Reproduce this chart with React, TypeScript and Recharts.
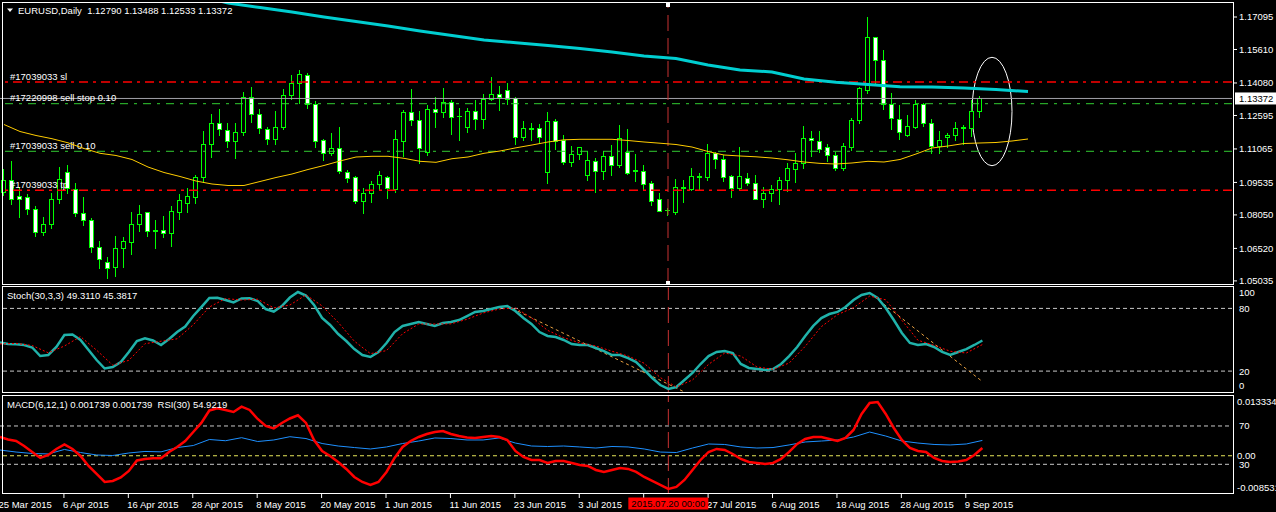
import React from 'react';
import {
  ComposedChart,
  Bar,
  Line,
  XAxis,
  YAxis,
  ReferenceLine,
  ReferenceArea,
  ReferenceDot,
} from 'recharts';

const W = 1276;
const H = 512;
const FONT = "'Liberation Sans', Arial, sans-serif";
const FS = 9.5;

// ---------- data ----------
// [open, high, low, close] per daily bar, starting 25 Mar 2015
const ohlc: [number, number, number, number][] = [
  [1.09114, 1.1015, 1.08962, 1.09647],
  [1.09647, 1.10516, 1.08536, 1.08764],
  [1.08916, 1.09343, 1.07972, 1.08764],
  [1.08855, 1.08993, 1.08079, 1.08307],
  [1.08307, 1.08459, 1.07089, 1.07287],
  [1.07287, 1.07972, 1.07134, 1.07637],
  [1.07622, 1.09069, 1.0747, 1.08764],
  [1.08764, 1.10257, 1.08612, 1.09678],
  [1.10028, 1.10333, 1.09069, 1.09267],
  [1.09221, 1.09526, 1.08003, 1.08124],
  [1.08124, 1.08855, 1.07591, 1.07805],
  [1.07805, 1.07896, 1.06373, 1.06571],
  [1.06571, 1.0686, 1.05642, 1.06023],
  [1.05886, 1.06144, 1.05185, 1.05642],
  [1.05657, 1.07089, 1.05276, 1.06525],
  [1.06525, 1.07058, 1.05688, 1.0686],
  [1.0683, 1.0817, 1.06251, 1.07622],
  [1.07622, 1.08505, 1.07332, 1.08094],
  [1.0817, 1.08201, 1.07104, 1.07332],
  [1.07332, 1.0782, 1.06556, 1.07363],
  [1.07363, 1.08003, 1.07058, 1.07241],
  [1.07241, 1.08459, 1.06647, 1.08216],
  [1.08201, 1.09008, 1.0785, 1.08718],
  [1.08612, 1.09267, 1.0817, 1.08916],
  [1.08886, 1.09891, 1.08581, 1.09784],
  [1.098, 1.11901, 1.09571, 1.11277],
  [1.11277, 1.12663, 1.10683, 1.12236],
  [1.12236, 1.12891, 1.11703, 1.11962],
  [1.11932, 1.12236, 1.1117, 1.11445],
  [1.11445, 1.12236, 1.10637, 1.11825],
  [1.11825, 1.13683, 1.11703, 1.13424],
  [1.13424, 1.13897, 1.12313, 1.12648],
  [1.12648, 1.12891, 1.1178, 1.12008],
  [1.11962, 1.12054, 1.11277, 1.11505],
  [1.11505, 1.128, 1.11307, 1.12084],
  [1.12084, 1.1379, 1.11978, 1.13516],
  [1.13516, 1.14445, 1.13348, 1.14064],
  [1.14064, 1.14673, 1.1315, 1.14475],
  [1.1443, 1.14521, 1.12952, 1.13105],
  [1.13105, 1.13257, 1.1117, 1.11445],
  [1.11475, 1.11536, 1.10561, 1.10896],
  [1.10896, 1.11795, 1.1079, 1.11094],
  [1.11094, 1.12069, 1.09982, 1.10074],
  [1.09998, 1.10104, 1.09571, 1.09754],
  [1.09769, 1.0983, 1.08581, 1.08703],
  [1.08703, 1.09267, 1.08155, 1.09038],
  [1.09038, 1.09602, 1.08642, 1.09465],
  [1.09449, 1.10059, 1.0919, 1.09876],
  [1.09769, 1.09845, 1.0884, 1.09267],
  [1.09251, 1.11932, 1.09114, 1.11521],
  [1.11445, 1.12846, 1.10759, 1.12754],
  [1.12754, 1.13805, 1.1216, 1.12374],
  [1.12374, 1.128, 1.10439, 1.11125],
  [1.10942, 1.13074, 1.1079, 1.12891],
  [1.12891, 1.1344, 1.12069, 1.1277],
  [1.1277, 1.13851, 1.12541, 1.13211],
  [1.13211, 1.13303, 1.11749, 1.12541],
  [1.12587, 1.12937, 1.11475, 1.12556],
  [1.12084, 1.12922, 1.11841, 1.128],
  [1.128, 1.13303, 1.11978, 1.1245],
  [1.1245, 1.13577, 1.12039, 1.13333],
  [1.13333, 1.14353, 1.13303, 1.13562],
  [1.13562, 1.13942, 1.12846, 1.13455],
  [1.13744, 1.14095, 1.13105, 1.13348],
  [1.13379, 1.13424, 1.11292, 1.11627],
  [1.11627, 1.12343, 1.11475, 1.12008],
  [1.11993, 1.12252, 1.11475, 1.12023],
  [1.12008, 1.12191, 1.11353, 1.11627],
  [1.10028, 1.12754, 1.09526, 1.12343],
  [1.12343, 1.12434, 1.11064, 1.11445],
  [1.11475, 1.11703, 1.10378, 1.10485],
  [1.10485, 1.11201, 1.10287, 1.1082],
  [1.1082, 1.11155, 1.10607, 1.1114],
  [1.09891, 1.10957, 1.09647, 1.10561],
  [1.10531, 1.10637, 1.09114, 1.10074],
  [1.10074, 1.10957, 1.09693, 1.10729],
  [1.10729, 1.11247, 1.09876, 1.10348],
  [1.10348, 1.1216, 1.10257, 1.11551],
  [1.10911, 1.11978, 1.09922, 1.09982],
  [1.10089, 1.10835, 1.09617, 1.10059],
  [1.10044, 1.10333, 1.09236, 1.09465],
  [1.09495, 1.09602, 1.0852, 1.08703],
  [1.08764, 1.09038, 1.08216, 1.08246],
  [1.08292, 1.08353, 1.08048, 1.08262],
  [1.08201, 1.09678, 1.08094, 1.09312],
  [1.09282, 1.09647, 1.08642, 1.09312],
  [1.09236, 1.10196, 1.0919, 1.0983],
  [1.098, 1.09952, 1.0919, 1.0983],
  [1.098, 1.11292, 1.09647, 1.10866],
  [1.10866, 1.10942, 1.1018, 1.10592],
  [1.10592, 1.1079, 1.09617, 1.098],
  [1.0983, 1.09876, 1.08886, 1.09297],
  [1.09298, 1.11156, 1.09191, 1.09831],
  [1.09724, 1.09983, 1.09419, 1.09495],
  [1.09495, 1.09876, 1.08764, 1.08795],
  [1.08795, 1.09343, 1.08429, 1.09039],
  [1.09039, 1.09419, 1.08704, 1.09221],
  [1.09221, 1.0977, 1.08536, 1.09633],
  [1.09633, 1.10409, 1.0916, 1.10181],
  [1.10166, 1.10866, 1.09572, 1.10409],
  [1.10409, 1.12115, 1.10211, 1.11552],
  [1.11552, 1.11887, 1.1076, 1.1146],
  [1.11445, 1.11887, 1.10942, 1.11049],
  [1.11171, 1.11277, 1.10516, 1.10775],
  [1.10775, 1.10942, 1.10105, 1.10181],
  [1.10181, 1.11323, 1.10105, 1.11201],
  [1.11171, 1.12465, 1.11018, 1.12389],
  [1.12374, 1.13912, 1.12267, 1.13836],
  [1.1376, 1.1708, 1.13638, 1.16166],
  [1.16166, 1.16197, 1.13988, 1.15115],
  [1.15115, 1.15588, 1.12877, 1.13105],
  [1.13105, 1.13608, 1.11993, 1.12465],
  [1.1242, 1.13075, 1.11536, 1.11826],
  [1.11719, 1.12602, 1.11658, 1.12115],
  [1.12085, 1.13303, 1.12024, 1.13105],
  [1.13105, 1.13151, 1.1213, 1.12237],
  [1.12237, 1.1242, 1.10866, 1.11217],
  [1.11217, 1.11887, 1.10866, 1.1146],
  [1.11597, 1.1178, 1.11171, 1.11704],
  [1.11689, 1.12298, 1.11475, 1.12008],
  [1.12024, 1.12146, 1.11277, 1.12054],
  [1.12039, 1.13303, 1.11674, 1.12785],
  [1.1279, 1.13488, 1.12533, 1.13372],
];

// cyan (slow) moving average, shifted forward: [bar index, value]
const slowMa: [number, number][] = [
  [26, 1.17915], [28, 1.17735], [32, 1.17529], [36, 1.17324], [40, 1.17095],
  [44, 1.16889], [48, 1.16684], [52, 1.16455], [56, 1.1625], [60, 1.16044],
  [64, 1.15921], [68, 1.15793], [72, 1.15656], [76, 1.15496], [80, 1.15313],
  [84, 1.15199], [88, 1.14902], [92, 1.14673], [96, 1.14582], [100, 1.14262],
  [104, 1.14111], [108, 1.1401], [112, 1.1391], [116, 1.13893], [120, 1.1385],
  [124, 1.13781], [128, 1.1369],
];

// yellow (fast) moving average, shifted forward: [bar index, value]
const fastMa: [number, number][] = [
  [0, 1.12182], [2, 1.11862], [4, 1.1168], [6, 1.11533], [8, 1.11346], [10, 1.11086],
  [12, 1.10866], [14, 1.10766], [16, 1.10583], [18, 1.1024], [20, 1.09989], [22, 1.09806],
  [24, 1.096], [26, 1.09463], [28, 1.09395], [30, 1.09395], [32, 1.09577], [34, 1.0976],
  [36, 1.0992], [38, 1.10126], [40, 1.10309], [42, 1.10514], [44, 1.10697], [46, 1.10729],
  [48, 1.10729], [50, 1.10637], [52, 1.105], [54, 1.10454], [56, 1.10619], [58, 1.10697],
  [60, 1.10866], [62, 1.10971], [64, 1.11117], [66, 1.11245], [68, 1.11383], [70, 1.11483],
  [72, 1.11506], [74, 1.11506], [76, 1.11506], [78, 1.11451], [80, 1.11383], [82, 1.11327],
  [84, 1.11268], [86, 1.11153], [88, 1.10948], [90, 1.10788], [92, 1.10743], [94, 1.10706],
  [96, 1.10651], [98, 1.10569], [100, 1.10469], [102, 1.10405], [104, 1.10377], [106, 1.10423],
  [108, 1.105], [110, 1.10468], [112, 1.10583], [114, 1.10834], [116, 1.11108], [118, 1.112],
  [120, 1.11314], [122, 1.11337], [124, 1.1136], [126, 1.11428], [128, 1.1152],
];

// Stochastic main line, one value per bar
const stochMain: number[] = [
  47.4, 45.9, 45.6, 45, 42.6, 34.4, 35.4, 43.1, 54.5, 55,
  49.8, 40.2, 30.6, 22.5, 23.9, 28.7, 38.3, 48.8, 51.4, 49.3,
  45, 50.7, 57.4, 62.7, 72.7, 81.3, 90, 90.2, 88, 85.8,
  89.5, 89.7, 87.1, 79.4, 77, 82.3, 90.4, 95.7, 92.3, 83.3,
  70.8, 64.1, 55.5, 48.8, 41.1, 35.4, 33.5, 38.3, 46.9, 57.4,
  63.2, 65.1, 67, 65.1, 63.2, 66, 67, 68.9, 72.7, 76.6,
  77.5, 79.4, 81.3, 82.3, 77.5, 70.8, 65.1, 57.4, 53.6, 52.6,
  49.8, 45.9, 45, 45, 42.1, 39.2, 35.4, 35.4, 32.5, 28.7,
  21.1, 13.4, 6.7, 2.9, 4.8, 11.5, 18.2, 26.8, 34.4, 38.3,
  39.2, 37.3, 26.8, 23, 22, 21.1, 22, 26.8, 34.4, 43.1,
  53.6, 63.2, 70.8, 74.6, 76.6, 81.3, 88, 92.8, 94.7, 90,
  80.4, 68.9, 56.5, 46.9, 45, 45.9, 43.1, 38.3, 35.4, 38.3,
  41.1, 45, 49.311,
];

// Stochastic signal line: [bar index, value]
const stochSignal: [number, number][] = [
  [0, 46], [2, 46.5], [4, 44.5], [6, 37.5], [8, 44], [10, 53], [12, 40], [14, 25.7],
  [16, 30.3], [18, 46.2], [20, 48.6], [22, 50.9], [24, 64.3], [26, 81.3], [28, 89.4],
  [30, 88], [32, 88.8], [34, 80.5], [36, 83.2], [38, 92.9], [40, 82.4], [42, 66.6],
  [44, 48.7], [46, 36.7], [48, 39.6], [50, 55.8], [52, 65.1], [54, 65.1], [56, 65.2],
  [58, 69.6], [60, 75.6], [62, 79.4], [64, 80.4], [66, 71.1], [68, 59], [70, 52],
  [72, 47], [74, 44], [76, 39], [78, 34.4], [80, 27.5], [82, 13.8], [84, 4.8], [86, 11.5],
  [88, 26.5], [90, 37.3], [92, 34.4], [94, 24], [96, 21.7], [98, 27.7], [100, 43.7],
  [102, 62.5], [104, 74], [106, 80.7], [108, 91.8], [110, 88.2], [112, 68.6], [114, 49.5],
  [116, 44.7], [118, 39], [120, 37.3], [122, 45.3817],
];

// MACD main line, one value per bar
const macdValues: number[] = [
  0.00419, 0.00364, 0.0033, 0.00219, 0.00085, -0.00049, 0.00018, 0.00152, 0.00252, 0.00152,
  -0.00004, -0.00228, -0.00406, -0.00585, -0.00562, -0.00484, -0.00339, -0.00105, -0.00071, -0.00056,
  -0.00056, 0.00085, 0.00196, 0.0033, 0.00531, 0.00732, 0.01011, 0.0106, 0.01022, 0.00977,
  0.01095, 0.01022, 0.00821, 0.00665, 0.00609, 0.00732, 0.00832, 0.00904, 0.00732, 0.00352,
  0.00107, -0.00004, -0.00138, -0.00294, -0.00473, -0.00585, -0.00651, -0.00585, -0.00361, -0.00049,
  0.00196, 0.0033, 0.00419, 0.00486, 0.00531, 0.00553, 0.00486, 0.00442, 0.00408, 0.00397,
  0.00419, 0.00442, 0.00419, 0.00352, 0.00107, -0.00027, -0.00094, -0.00094, -0.00161, -0.00116,
  -0.00116, -0.00161, -0.00205, -0.00228, -0.00317, -0.00361, -0.00317, -0.00272, -0.00294, -0.00361,
  -0.00473, -0.00562, -0.00651, -0.00741, -0.00696, -0.0054, -0.00317, -0.00094, 0.00085, 0.00152,
  0.00129, 0.0004, -0.00071, -0.00138, -0.00161, -0.00183, -0.00161, -0.00071, 0.00085, 0.00263,
  0.00375, 0.00419, 0.00419, 0.00375, 0.0033, 0.00397, 0.00576, 0.00933, 0.01178, 0.012,
  0.00933, 0.0062, 0.00352, 0.00174, 0.00107, 0.00085, -0.00049, -0.00116, -0.00138, -0.00127,
  -0.00094, 0.00018, 0.001739,
];

// RSI(30): [bar index, value]
const rsiValues: [number, number][] = [
  [0, 44.9], [2, 42.8], [4, 41.3], [6, 40.8], [8, 45.5], [10, 42.3], [12, 39.7], [14, 39.2],
  [16, 41.8], [18, 43.4], [20, 43], [22, 47.5], [24, 49.6], [26, 55.9], [28, 54.6], [30, 57.8],
  [32, 53.8], [34, 55.4], [36, 58.8], [38, 56.9], [40, 51.7], [42, 49.1], [44, 47.5], [46, 46],
  [48, 48.1], [50, 51.7], [52, 54.3], [54, 57.5], [56, 56.9], [58, 55.4], [60, 55.4], [62, 57.5],
  [64, 52.2], [66, 49.1], [68, 48.6], [70, 49.1], [72, 48.1], [74, 47], [76, 48.6], [78, 48.1],
  [80, 46], [82, 42.8], [84, 42.3], [86, 47], [88, 51.2], [90, 50.7], [92, 48.1], [94, 47],
  [96, 47.5], [98, 50.2], [100, 53.3], [102, 54.3], [104, 55.4], [106, 58.5], [108, 63.7],
  [110, 59.5], [112, 54.3], [114, 52.2], [116, 50.7], [118, 50.2], [120, 51.2], [122, 54.9219],
];

// bottom axis labels: [bar index, text]
const dateTicks: [number, string][] = [
  [0, '25 Mar 2015'], [8, '6 Apr 2015'], [16, '16 Apr 2015'], [24, '28 Apr 2015'],
  [32, '8 May 2015'], [40, '20 May 2015'], [48, '1 Jun 2015'], [56, '11 Jun 2015'],
  [64, '23 Jun 2015'], [72, '3 Jul 2015'], [80, '15 Jul 2015'], [88, '27 Jul 2015'],
  [96, '6 Aug 2015'], [104, '18 Aug 2015'], [112, '28 Aug 2015'], [120, '9 Sep 2015'],
];
const cursorIndex = 83;
const cursorLabel = '2015.07.20 00:00';

const priceTicks = [1.17095, 1.1561, 1.1408, 1.12595, 1.11065, 1.09535, 1.0805, 1.0652, 1.05035];
const stochTicks = [0, 20, 80, 100];
const stochLevels = [80, 20];
const rsiLevels = [70, 30];

const orderSl = 1.14125;
const orderSellStop = 1.13133;
const orderSell = 1.10958;
const orderTp = 1.09175;
const bidPrice = 1.13372;

const stochTrends: [[number, number], [number, number]][] = [
  [[63, 82.3], [85, 0]],
  [[108, 94.7], [122, 10]],
];

// ellipse object around the last bars: index range and price range
const ellipseBars: [number, number] = [121, 126];
const ellipsePrices: [number, number] = [1.103, 1.15253];

const PRICE_MIN = 1.04893;
const PRICE_MAX = 1.17735;
const MACD_MIN = -0.008531;
const MACD_MAX = 0.013334;
const SLOTS = 154;

// ---------- table ----------
const slowMap = new Map(slowMa);
const fastMap = new Map(fastMa);
const sigMap = new Map(stochSignal);
const rsiMap = new Map(rsiValues);
const dateMap = new Map(dateTicks);

const rows = Array.from({ length: SLOTS }, (_, i) => {
  const k = ohlc[i];
  return {
    i,
    o: k ? k[0] : null,
    h: k ? k[1] : null,
    l: k ? k[2] : null,
    c: k ? k[3] : null,
    slow: slowMap.has(i) ? slowMap.get(i) : null,
    fast: fastMap.has(i) ? fastMap.get(i) : null,
    st: i < stochMain.length ? stochMain[i] : null,
    sig: sigMap.has(i) ? sigMap.get(i) : null,
    macd: i < macdValues.length ? macdValues[i] : null,
    rsi: rsiMap.has(i) ? rsiMap.get(i) : null,
  };
});

const xTicks = [...dateTicks.map((d) => d[0]), cursorIndex];

// ---------- shapes ----------
const GREEN = '#00ff00';

const Candle = (props: any) => {
  const { x, y, width, height, payload } = props;
  if (!payload || payload.o == null || !isFinite(y) || !isFinite(height)) return <g />;
  const { o, h, l, c } = payload;
  const top = Math.min(y, y + height);
  const bot = Math.max(y, y + height);
  const span = h - l || 1e-9;
  const py = (v: number) => top + ((h - v) / span) * (bot - top);
  const cx = Math.floor(x + width / 2 - 0.5);
  const bull = c >= o;
  const bTop = Math.round(Math.min(py(o), py(c)));
  const bBot = Math.round(Math.max(py(o), py(c)));
  return (
    <g shapeRendering="crispEdges">
      <line x1={cx + 0.5} x2={cx + 0.5} y1={Math.round(top)} y2={Math.round(bot) + 1} stroke={GREEN} strokeWidth={1} />
      {bBot - bTop < 1 ? (
        <line x1={cx - 2} x2={cx + 3} y1={bTop + 0.5} y2={bTop + 0.5} stroke={GREEN} strokeWidth={1} />
      ) : (
        <rect x={cx - 1.5} y={bTop + 0.5} width={4} height={bBot - bTop} fill={bull ? '#000' : '#fff'} stroke={GREEN} strokeWidth={1} />
      )}
    </g>
  );
};

const PriceTick = (props: any) => {
  const { y, payload } = props;
  return (
    <g>
      <line x1={1234} x2={1237} y1={y} y2={y} stroke="#fff" />
      <text x={1239} y={y + 3.4} fill="#fff" fontSize={FS} fontFamily={FONT}>
        {Number(payload.value).toFixed(5)}
      </text>
    </g>
  );
};

const SideTick = (props: any) => {
  const { y, payload, lo, hi, fmt, tx } = props;
  const yy = Math.min(hi, Math.max(lo, y));
  return (
    <text x={tx || 1239} y={yy + 3.4} fill="#fff" fontSize={FS} fontFamily={FONT}>
      {fmt(payload.value)}
    </text>
  );
};

const DateTick = (props: any) => {
  const { x, payload } = props;
  const v = payload.value;
  if (v === cursorIndex) {
    return (
      <g>
        <rect x={x - 40} y={497.5} width={80} height={12} fill="#ff0000" />
        <text x={x} y={507} textAnchor="middle" fill="#000" fontSize={FS} fontFamily={FONT}>
          {cursorLabel}
        </text>
      </g>
    );
  }
  // the label just before the cursor box is covered by it
  const hidden = v < cursorIndex && (cursorIndex - v) * 8 < 45;
  return (
    <g>
      <line x1={x - 0.5} x2={x - 0.5} y1={494} y2={498} stroke="#fff" />
      {!hidden && (
        <text x={x - 1.5} y={507.5} fill="#fff" fontSize={FS} fontFamily={FONT}>
          {dateMap.get(v)}
        </text>
      )}
    </g>
  );
};

const OrderLabel = (props: any) => {
  const vb = props.viewBox || {};
  return (
    <text x={10} y={(vb.y || 0) - 2.3} fill="#fff" fontSize={FS} fontFamily={FONT}>
      {props.labelText}
    </text>
  );
};

const BidLabel = (props: any) => {
  const vb = props.viewBox || {};
  const y = vb.y || 0;
  return (
    <g>
      <rect x={1235} y={y - 6} width={41} height={12} fill="#fff" />
      <text x={1239} y={y + 3.4} fill="#000" fontSize={FS} fontFamily={FONT}>
        {bidPrice.toFixed(5)}
      </text>
    </g>
  );
};

const LevelLabel = (props: any) => {
  const vb = props.viewBox || {};
  return (
    <text x={1239} y={(vb.y || 0) + 3.4} fill="#fff" fontSize={FS} fontFamily={FONT}>
      {props.labelText}
    </text>
  );
};

const ellipseShape = (p: any) => (
  <ellipse
    cx={p.x + p.width / 2}
    cy={p.y + p.height / 2}
    rx={Math.max(p.width / 2 - 4, 1)}
    ry={p.height / 2}
    fill="none"
    stroke="#fff"
    strokeWidth={1}
  />
);

const anchorShape = (p: any) => <rect x={p.cx - 2} y={p.cy - 2} width={4} height={4} fill="#fff" />;

const VLINE = { stroke: '#c83232', strokeDasharray: '16 7', strokeWidth: 1 };

// ---------- charts ----------
const MainChart = () => (
  <ComposedChart width={W} height={H} data={rows} margin={{ top: 3, right: 0, bottom: H - 284, left: 0 }}>
    <XAxis dataKey="i" hide />
    <YAxis
      orientation="right"
      width={44}
      domain={[PRICE_MIN, PRICE_MAX]}
      allowDataOverflow
      ticks={priceTicks}
      interval={0}
      axisLine={false}
      tickLine={false}
      tick={<PriceTick />}
    />
    <ReferenceLine y={orderSl} stroke="#ff0000" strokeWidth={1.5} strokeDasharray="9 5 3 5" label={<OrderLabel labelText="#17039033 sl" />} />
    <ReferenceLine y={bidPrice} stroke="#a0a0a8" strokeWidth={1} label={<BidLabel />} />
    <ReferenceLine y={orderSellStop} stroke="#32cd32" strokeWidth={1} strokeDasharray="8 6 3 6" label={<OrderLabel labelText="#17220998 sell stop 0.10" />} />
    <ReferenceLine y={orderSell} stroke="#32cd32" strokeWidth={1} strokeDasharray="8 6 3 6" label={<OrderLabel labelText="#17039033 sell 0.10" />} />
    <ReferenceLine y={orderTp} stroke="#ff0000" strokeWidth={1.5} strokeDasharray="9 5 3 5" label={<OrderLabel labelText="#17039033 tp" />} />
    <ReferenceLine x={cursorIndex} {...VLINE} />
    <Bar dataKey={(d: any) => (d.o == null ? null : [d.l, d.h])} shape={Candle} isAnimationActive={false} />
    <Line dataKey="fast" stroke="#ffcc00" strokeWidth={1} dot={false} connectNulls isAnimationActive={false} />
    <Line dataKey="slow" stroke="#00ced1" strokeWidth={3} dot={false} connectNulls isAnimationActive={false} />
    <ReferenceArea
      x1={ellipseBars[0]}
      x2={ellipseBars[1]}
      y1={ellipsePrices[0]}
      y2={ellipsePrices[1]}
      shape={ellipseShape}
    />
    <ReferenceDot x={cursorIndex} y={1.17643} r={2} shape={anchorShape} />
    <ReferenceDot x={cursorIndex} y={1.04939} r={2} shape={anchorShape} />
  </ComposedChart>
);

const StochChart = () => (
  <ComposedChart width={W} height={H} data={rows} margin={{ top: 287.5, right: 0, bottom: 120, left: 0 }}>
    <XAxis dataKey="i" hide />
    <YAxis
      orientation="right"
      width={44}
      domain={[0, 100]}
      allowDataOverflow
      ticks={stochTicks}
      interval={0}
      axisLine={false}
      tickLine={false}
      tick={<SideTick lo={292.3} hi={385.7} fmt={(v: number) => String(v)} />}
    />
    {stochLevels.map((lv) => (
      <ReferenceLine key={lv} y={lv} stroke="#c8c8c8" strokeDasharray="4 3" strokeWidth={1} />
    ))}
    <ReferenceLine x={cursorIndex} {...VLINE} />
    {stochTrends.map((t, k) => (
      <ReferenceLine
        key={k}
        segment={[{ x: t[0][0], y: t[0][1] }, { x: t[1][0], y: t[1][1] }]}
        stroke="#e8a040"
        strokeDasharray="3 3"
        strokeWidth={1}
      />
    ))}
    <Line dataKey="st" stroke="#20b2aa" strokeWidth={2.5} dot={false} connectNulls isAnimationActive={false} />
    <Line dataKey="sig" stroke="#ff0000" strokeWidth={1} strokeDasharray="2 2" dot={false} connectNulls isAnimationActive={false} />
  </ComposedChart>
);

const MacdChart = () => (
  <ComposedChart width={W} height={H} data={rows} margin={{ top: 396, right: 0, bottom: 0, left: 0 }}>
    <XAxis
      dataKey="i"
      height={18}
      ticks={xTicks}
      interval={0}
      axisLine={false}
      tickLine={false}
      tick={<DateTick />}
    />
    <YAxis
      orientation="right"
      width={44}
      domain={[MACD_MIN, MACD_MAX]}
      allowDataOverflow
      ticks={[MACD_MIN, 0, MACD_MAX]}
      interval={0}
      axisLine={false}
      tickLine={false}
      tick={<SideTick lo={401.7} hi={487.7} tx={1237} fmt={(v: number) => (v === 0 ? '0.00' : v.toFixed(6))} />}
    />
    <YAxis yAxisId="rsi" hide domain={[-1, 101.3]} allowDataOverflow />
    {rsiLevels.map((lv) => (
      <ReferenceLine
        key={lv}
        yAxisId="rsi"
        y={lv}
        stroke="#c8c8c8"
        strokeDasharray="4 3"
        strokeWidth={1}
        label={<LevelLabel labelText={String(lv)} />}
      />
    ))}
    <ReferenceLine y={0} stroke="#e6e65a" strokeDasharray="4 3" strokeWidth={1} />
    <ReferenceLine x={cursorIndex} {...VLINE} />
    <Line yAxisId="rsi" dataKey="rsi" stroke="#1e90ff" strokeWidth={1} dot={false} connectNulls isAnimationActive={false} />
    <Line dataKey="macd" stroke="#ff0000" strokeWidth={2.5} dot={false} connectNulls isAnimationActive={false} />
  </ComposedChart>
);

export default function App() {
  const layer: React.CSSProperties = { position: 'absolute', left: 0, top: 0 };
  return (
    <div
      style={{
        position: 'fixed',
        left: 0,
        top: 0,
        width: W,
        height: H,
        background: '#000',
        overflow: 'hidden',
        fontFamily: FONT,
      }}
    >
      <div style={layer}>
        <MainChart />
      </div>
      <div style={layer}>
        <StochChart />
      </div>
      <div style={layer}>
        <MacdChart />
      </div>
      <svg width={W} height={H} style={{ ...layer, pointerEvents: 'none' }}>
        <g fill="none" stroke="#fff" strokeWidth={1} shapeRendering="crispEdges">
          <rect x={2.5} y={2.5} width={1231} height={282} />
          <rect x={2.5} y={286.5} width={1231} height={106} />
          <rect x={2.5} y={395.5} width={1231} height={98} />
        </g>
        <polygon points="7,8.5 13,8.5 10,12" fill="#fff" />
        <text x={18} y={14} fill="#fff" fontSize={FS} fontFamily={FONT} style={{ whiteSpace: 'pre' }}>
          {'EURUSD,Daily  1.12790 1.13488 1.12533 1.13372'}
        </text>
        <text x={7} y={299} fill="#fff" fontSize={FS} fontFamily={FONT} style={{ whiteSpace: 'pre' }}>
          {'Stoch(30,3,3) 49.3110 45.3817'}
        </text>
        <text x={7} y={408} fill="#fff" fontSize={FS} fontFamily={FONT} style={{ whiteSpace: 'pre' }}>
          {'MACD(6,12,1) 0.001739 0.001739  RSI(30) 54.9219'}
        </text>
      </svg>
    </div>
  );
}
